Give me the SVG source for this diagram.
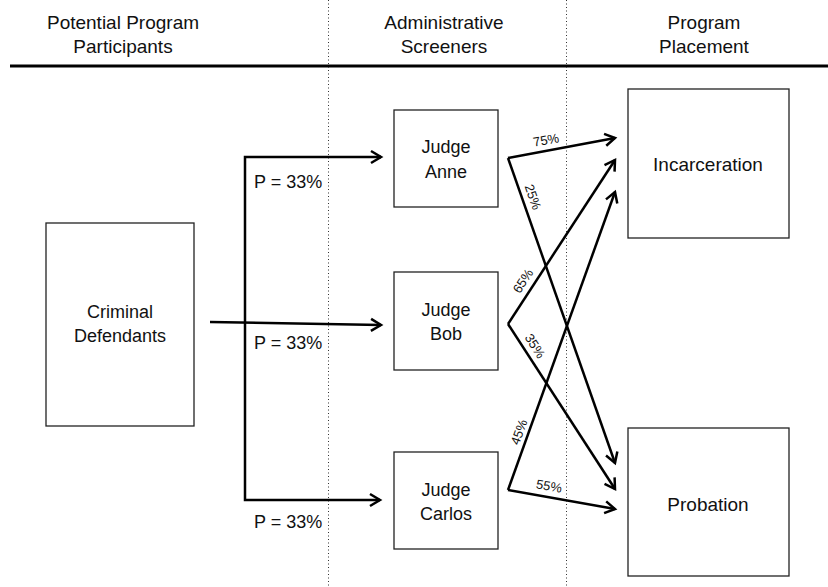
<svg xmlns="http://www.w3.org/2000/svg" width="828" height="587" viewBox="0 0 828 587">
<style>
text{font-family:"Liberation Sans",Arial,sans-serif;fill:#111;text-anchor:middle}
.hd{font-size:19px}
.bx{font-size:18px}
.big{font-size:19px}
.pl{font-size:18px;text-anchor:start}
.pc{font-size:13px}
rect{fill:#fff;stroke:#222;stroke-width:1.3}
.dot{stroke:#333;stroke-width:1;stroke-dasharray:1 2.5}
.ar{stroke:#000;stroke-width:2.5;fill:none}
</style>
<defs>
<marker id="ah" markerUnits="userSpaceOnUse" markerWidth="20" markerHeight="20" refX="0" refY="0" orient="auto" overflow="visible">
<path d="M-10,-6 L0,0 L-10,6" fill="none" stroke="#000" stroke-width="2.5" stroke-linejoin="miter"/>
</marker>
</defs>
<rect x="0" y="0" width="828" height="587" style="fill:#fff;stroke:none"/>
<g id="dividers">
<line class="dot" x1="328.5" y1="0" x2="328.5" y2="587"/>
<line class="dot" x1="566.5" y1="0" x2="566.5" y2="587"/>
<line x1="10" y1="66" x2="828" y2="66" stroke="#000" stroke-width="3"/>
</g>
<g id="headers">
<text class="hd" x="123" y="29">Potential Program</text>
<text class="hd" x="123" y="53">Participants</text>
<text class="hd" x="444" y="29">Administrative</text>
<text class="hd" x="444" y="53">Screeners</text>
<text class="hd" x="704" y="29">Program</text>
<text class="hd" x="704" y="53">Placement</text>
</g>
<g id="connectors">
<polyline class="ar" points="381,157 245,157 245,500 380,500" marker-end="url(#ah)"/>
<line class="ar" x1="380" y1="157" x2="381" y2="157" marker-end="url(#ah)"/>
<line class="ar" x1="210" y1="322" x2="381" y2="325" marker-end="url(#ah)"/>
<line class="ar" x1="508" y1="158" x2="615" y2="138" marker-end="url(#ah)"/>
<line class="ar" x1="508" y1="158" x2="615" y2="463" marker-end="url(#ah)"/>
<line class="ar" x1="508" y1="324" x2="615" y2="160" marker-end="url(#ah)"/>
<line class="ar" x1="508" y1="324" x2="615" y2="489" marker-end="url(#ah)"/>
<line class="ar" x1="508" y1="490" x2="615" y2="192" marker-end="url(#ah)"/>
<line class="ar" x1="508" y1="490" x2="615" y2="509" marker-end="url(#ah)"/>
<text class="pl" x="254" y="188">P = 33%</text>
<text class="pl" x="254" y="349">P = 33%</text>
<text class="pl" x="254" y="528">P = 33%</text>
<text class="pc" transform="translate(546,140) rotate(-10.6)" x="0" y="4.5">75%</text>
<text class="pc" transform="translate(533,197) rotate(70.7)" x="0" y="4.5">25%</text>
<text class="pc" transform="translate(523,281) rotate(-56.9)" x="0" y="4.5">65%</text>
<text class="pc" transform="translate(535,346) rotate(57)" x="0" y="4.5">35%</text>
<text class="pc" transform="translate(519,432) rotate(-70.2)" x="0" y="4.5">45%</text>
<text class="pc" transform="translate(549,486) rotate(10.1)" x="0" y="4.5">55%</text>
</g>
<g id="criminal-defendants">
<rect x="46" y="223" width="148" height="203"/>
<text class="bx" x="120" y="318">Criminal</text>
<text class="bx" x="120" y="342">Defendants</text>
</g>
<g id="judge-anne">
<rect x="394" y="110" width="104" height="97"/>
<text class="bx" x="446" y="153">Judge</text>
<text class="bx" x="446" y="178">Anne</text>
</g>
<g id="judge-bob">
<rect x="394" y="272" width="104" height="98"/>
<text class="bx" x="446" y="316">Judge</text>
<text class="bx" x="446" y="340">Bob</text>
</g>
<g id="judge-carlos">
<rect x="394" y="452" width="104" height="97"/>
<text class="bx" x="446" y="496">Judge</text>
<text class="bx" x="446" y="520">Carlos</text>
</g>
<g id="incarceration">
<rect x="628" y="89" width="161" height="149"/>
<text class="big" x="708" y="171">Incarceration</text>
</g>
<g id="probation">
<rect x="628" y="428" width="161" height="148"/>
<text class="big" x="708" y="511">Probation</text>
</g>
</svg>
